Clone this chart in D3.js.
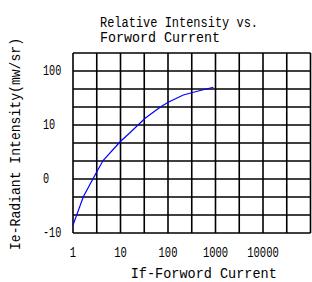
<!DOCTYPE html>
<html>
<head>
<meta charset="utf-8">
<script src="https://cdn.jsdelivr.net/npm/d3@7"></script>
<style>
    body { margin: 0; background: #fff; }
    text { font-family: "Liberation Mono", "DejaVu Sans Mono", monospace; font-size: 14.5px; fill: #000; }
    .xtick, .ytick { font-size: 14px; }
</style>
</head>
<body>
<div id="main"></div>
<script>
const titleLines = ['Relative Intensity vs.', 'Forword Current']
const xTitle = 'If-Forword Current'
const yTitle = 'Ie-Radiant Intensity(mw/sr)'

const xTicks = [1, 10, 100, 1000, 10000]
const yTicks = [100, 10, 1, 0.1]
const yTickLabels = ['100', '10', '0', '-10']

// curve (If, Ie)
const current   = [1, 1.65, 3.05, 4.3, 9.8, 15.8, 33, 68, 101, 210, 434, 900]
const intensity = [0.14, 0.47, 1.28, 2.2, 4.9, 7.2, 13.3, 21.3, 26.3, 35.9, 42.6, 50]

const width = 312
const height = 282
const plotLeft = 73, plotRight = 310.5, plotTop = 53, plotBottom = 233

const svg = d3.select('#main')
                .append('svg')
                .attr('width', width)
                .attr('height', height)

// 2 grid columns per decade, 3 grid rows per decade
const x = d3.scaleLog().domain([1, 1e5]).range([plotLeft, plotRight])
const y = d3.scaleLog().domain([0.1, 0.1 * Math.pow(10, 10 / 3)]).range([plotBottom, plotTop])

const xGrid = d3.range(0, 11).map((k) => Math.pow(10, k / 2))
const yGrid = d3.range(0, 11).map((k) => 0.1 * Math.pow(10, k / 3))

let grid = svg.append('g')
                .attr('stroke', '#000')
                .attr('stroke-width', 1.6)
grid.selectAll('.vline')
    .data(xGrid)
    .enter()
    .append('line')
    .attr('class', 'vline')
    .attr('x1', (d) => x(d))
    .attr('x2', (d) => x(d))
    .attr('y1', plotTop)
    .attr('y2', plotBottom)
grid.selectAll('.hline')
    .data(yGrid)
    .enter()
    .append('line')
    .attr('class', 'hline')
    .attr('x1', plotLeft)
    .attr('x2', plotRight)
    .attr('y1', (d) => y(d))
    .attr('y2', (d) => y(d))

const points = current.map((c, i) => [c, intensity[i]])
const line = d3.line()
                .x((d) => x(d[0]))
                .y((d) => y(d[1]))

svg.append('path')
    .datum(points)
    .attr('d', line)
    .attr('fill', 'none')
    .attr('stroke', '#0000ff')
    .attr('stroke-width', 1.2)

// tick labels
svg.selectAll('.xtick')
    .data(xTicks)
    .enter()
    .append('text')
    .attr('class', 'xtick')
    .attr('x', (d) => x(d))
    .attr('y', plotBottom + 24)
    .attr('text-anchor', 'middle')
    .attr('textLength', (d) => String(d).length * 6.3)
    .attr('lengthAdjust', 'spacingAndGlyphs')
    .text((d) => d)

svg.selectAll('.ytick')
    .data(yTicks)
    .enter()
    .append('text')
    .attr('class', 'ytick')
    .attr('x', 43)
    .attr('y', (d) => y(d) + 3.5)
    .attr('textLength', (d, i) => yTickLabels[i].length * 6.1)
    .attr('lengthAdjust', 'spacingAndGlyphs')
    .text((d, i) => yTickLabels[i])

// titles
svg.selectAll('.title')
    .data(titleLines)
    .enter()
    .append('text')
    .attr('class', 'title')
    .attr('x', 100)
    .attr('y', (d, i) => 26.5 + 15 * i)
    .attr('textLength', (d, i) => [158, 120][i])
    .attr('lengthAdjust', 'spacingAndGlyphs')
    .text((d) => d)

svg.append('text')
    .attr('x', (plotLeft + plotRight) / 2 + 12)
    .attr('y', 278)
    .attr('text-anchor', 'middle')
    .attr('textLength', 146)
    .attr('lengthAdjust', 'spacingAndGlyphs')
    .text(xTitle)

svg.append('text')
    .attr('transform', 'translate(20,144) rotate(-90)')
    .attr('text-anchor', 'middle')
    .attr('textLength', 212)
    .attr('lengthAdjust', 'spacingAndGlyphs')
    .text(yTitle)
</script>
</body>
</html>
